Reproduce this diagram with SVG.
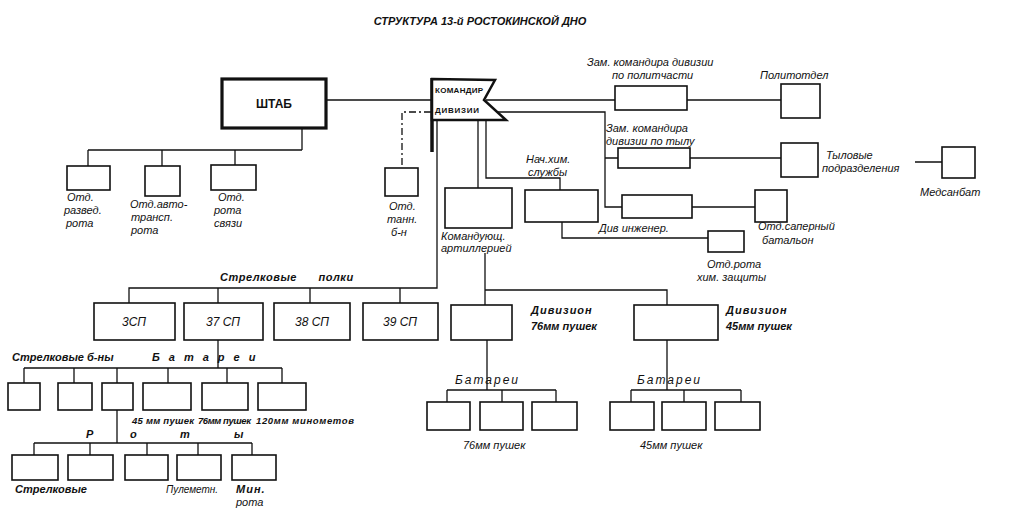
<svg xmlns="http://www.w3.org/2000/svg" width="1009" height="525" viewBox="0 0 1009 525">
<style>
text{font-family:"Liberation Sans",Arial,sans-serif;font-style:italic;font-size:11px;fill:#111}
.b{font-weight:bold}
.n rect{fill:#fff;stroke:#111;stroke-width:1.6}
#conn path{fill:none;stroke:#111;stroke-width:1.3}
</style>
<rect width="1009" height="525" fill="#fff"/>
<text x="480" y="25" text-anchor="middle" class="b">СТРУКТУРА 13-й РОСТОКИНСКОЙ ДНО</text>
<g id="conn">
<path d="M326 100H431M302 128V150M88 150H302M88 150V166M162 150V166M235 150V165"/>
<path d="M431 112H402V168" stroke-dasharray="7 3 2 3"/>
<path d="M486 100H615M687 100H781M496 112H605V207H622M605 158H618M690 158H781M915 162H942M692 207H755"/>
<path d="M486 120V178H560V190M562 222V238H708M478 120V188M485 253V290H667V305M485 290V305"/>
<path d="M437 120V288H129V303M218 288V303M310 288V303M400 288V303"/>
<path d="M218 340V368M24 368H282M24 368V383M74 368V383M117 368V383M168 368V383M227 368V383M282 368V383"/>
<path d="M117 410V443M34 443H252M34 443V455M90 443V455M147 443V455M198 443V455M252 443V455"/>
<path d="M487 340V390M447 390H556M447 390V402M502 390V402M556 390V402"/>
<path d="M667 340V390M631 390H741M631 390V402M684 390V402M741 390V402"/>
</g>
<g id="shtab"><rect x="222" y="79" width="104" height="49" fill="#fff" stroke="#111" stroke-width="3.2"/><text x="274" y="108" text-anchor="middle" class="b" style="font-style:normal;font-size:12px">ШТАБ</text></g>
<g id="kom"><path d="M432 78V152" stroke="#111" stroke-width="3.5"/><polygon points="432,79 495,80 484,100 506,120 432,120" fill="#fff" stroke="#111" stroke-width="2.5"/><text x="435" y="93" class="b" style="font-style:normal;font-size:8px" textLength="48">КОМАНДИР</text><text x="435" y="113" class="b" style="font-style:normal;font-size:8px" textLength="44">ДИВИЗИИ</text></g>
<g class="n" id="razv"><rect x="67" y="166" width="43" height="24"/><text x="67" y="201">Отд.</text><text x="64" y="214">развед.</text><text x="66" y="227">рота</text></g>
<g class="n" id="avto"><rect x="145" y="166" width="35" height="30"/><text x="130" y="208">Отд.авто-</text><text x="131" y="221">трансп.</text><text x="131" y="234">рота</text></g>
<g class="n" id="svyaz"><rect x="211" y="165" width="45" height="25"/><text x="218" y="201">Отд.</text><text x="214" y="214">рота</text><text x="214" y="227">связи</text></g>
<g class="n" id="tank"><rect x="385" y="168" width="33" height="28"/><text x="389" y="210">Отд.</text><text x="387" y="223">танн.</text><text x="391" y="236">б-н</text></g>
<g class="n" id="zampol"><rect x="615" y="86" width="72" height="24"/><text x="587" y="66">Зам. командира дивизии</text><text x="612" y="79">по политчасти</text></g>
<g class="n" id="polit"><rect x="781" y="84" width="39" height="34"/><text x="760" y="79">Политотдел</text></g>
<g class="n" id="zamtyl"><rect x="618" y="148" width="72" height="20"/><text x="606" y="132">Зам. командира</text><text x="606" y="145">дивизии по тылу</text></g>
<g class="n" id="tyl"><rect x="781" y="143" width="37" height="34"/><text x="826" y="159">Тыловые</text><text x="822" y="172">подразделения</text></g>
<g class="n" id="med"><rect x="942" y="147" width="33" height="31"/><text x="920" y="196">Медсанбат</text></g>
<g class="n" id="inzh"><rect x="622" y="195" width="70" height="23"/><text x="599" y="232">Див инженер.</text></g>
<g class="n" id="saper"><rect x="755" y="190" width="32" height="32"/><text x="758" y="230">Отд.саперный</text><text x="762" y="244">батальон</text></g>
<g class="n" id="him"><rect x="525" y="190" width="73" height="32"/><text x="526" y="163">Нач.хим.</text><text x="528" y="176">службы</text></g>
<g class="n" id="himz"><rect x="708" y="231" width="36" height="21"/><text x="707" y="268">Отд.рота</text><text x="697" y="281">хим. защиты</text></g>
<g class="n" id="art"><rect x="445" y="188" width="67" height="40"/><text x="441" y="240">Командующ.</text><text x="441" y="252">артиллерией</text></g>
<g id="lbl1"><text x="220" y="281" class="b" letter-spacing="0.5">Стрелковые <tspan dx="18">полки</tspan></text></g>
<g class="n" id="sp3"><rect x="94" y="303" width="81" height="37"/><text x="134" y="326" text-anchor="middle" style="font-size:12px">3СП</text></g>
<g class="n" id="sp37"><rect x="184" y="303" width="79" height="37"/><text x="223" y="326" text-anchor="middle" style="font-size:12px">37 СП</text></g>
<g class="n" id="sp38"><rect x="274" y="303" width="76" height="37"/><text x="312" y="326" text-anchor="middle" style="font-size:12px">38 СП</text></g>
<g class="n" id="sp39"><rect x="363" y="303" width="75" height="37"/><text x="400" y="326" text-anchor="middle" style="font-size:12px">39 СП</text></g>
<g class="n" id="d76"><rect x="451" y="305" width="61" height="35"/><text x="531" y="314" class="b" letter-spacing="1">Дивизион</text><text x="531" y="330" class="b">76мм пушек</text></g>
<g class="n" id="d45"><rect x="634" y="305" width="84" height="35"/><text x="726" y="314" class="b" letter-spacing="1">Дивизион</text><text x="726" y="330" class="b">45мм пушек</text></g>
<g id="lbl2"><text x="12" y="361" class="b">Стрелковые б-ны</text><text x="152" y="361" class="b" letter-spacing="9">Батареи</text></g>
<g class="n" id="b1"><rect x="8" y="383" width="32" height="27"/></g>
<g class="n" id="b2"><rect x="58" y="383" width="34" height="27"/></g>
<g class="n" id="b3"><rect x="102" y="383" width="31" height="27"/></g>
<g class="n" id="bat45"><rect x="143" y="383" width="48" height="27"/><text x="132" y="424" class="b" style="font-size:9.5px" textLength="62">45 мм пушек</text></g>
<g class="n" id="bat76"><rect x="202" y="383" width="46" height="27"/><text x="198" y="424" class="b" style="font-size:9.5px" textLength="53">76мм пушек</text></g>
<g class="n" id="bat120"><rect x="258" y="383" width="48" height="27"/><text x="256" y="424" class="b" style="font-size:9.5px" textLength="98">120мм минометов</text></g>
<g id="lbl3"><text x="86" y="438" class="b">Р</text><text x="130" y="438" class="b">о</text><text x="180" y="438" class="b">т</text><text x="234" y="438" class="b">ы</text></g>
<g class="n" id="r1"><rect x="12" y="455" width="46" height="25"/><text x="15" y="493" class="b">Стрелковые</text></g>
<g class="n" id="r2"><rect x="68" y="455" width="45" height="25"/></g>
<g class="n" id="r3"><rect x="125" y="455" width="43" height="25"/></g>
<g class="n" id="r4"><rect x="177" y="455" width="44" height="25"/><text x="166" y="493" style="font-size:10px">Пулеметн.</text></g>
<g class="n" id="r5"><rect x="232" y="455" width="44" height="25"/><text x="236" y="493" class="b" letter-spacing="1">Мин.</text><text x="236" y="506">рота</text></g>
<g id="lbl4"><text x="455" y="384" letter-spacing="2" style="font-size:12px">Батареи</text><text x="637" y="384" letter-spacing="2" style="font-size:12px">Батареи</text><text x="463" y="449">76мм пушек</text><text x="640" y="449">45мм пушек</text></g>
<g class="n" id="a1"><rect x="427" y="402" width="43" height="28"/></g>
<g class="n" id="a2"><rect x="480" y="402" width="43" height="28"/></g>
<g class="n" id="a3"><rect x="532" y="402" width="45" height="28"/></g>
<g class="n" id="c1"><rect x="610" y="402" width="44" height="28"/></g>
<g class="n" id="c2"><rect x="662" y="402" width="44" height="28"/></g>
<g class="n" id="c3"><rect x="715" y="402" width="45" height="28"/></g>
</svg>
